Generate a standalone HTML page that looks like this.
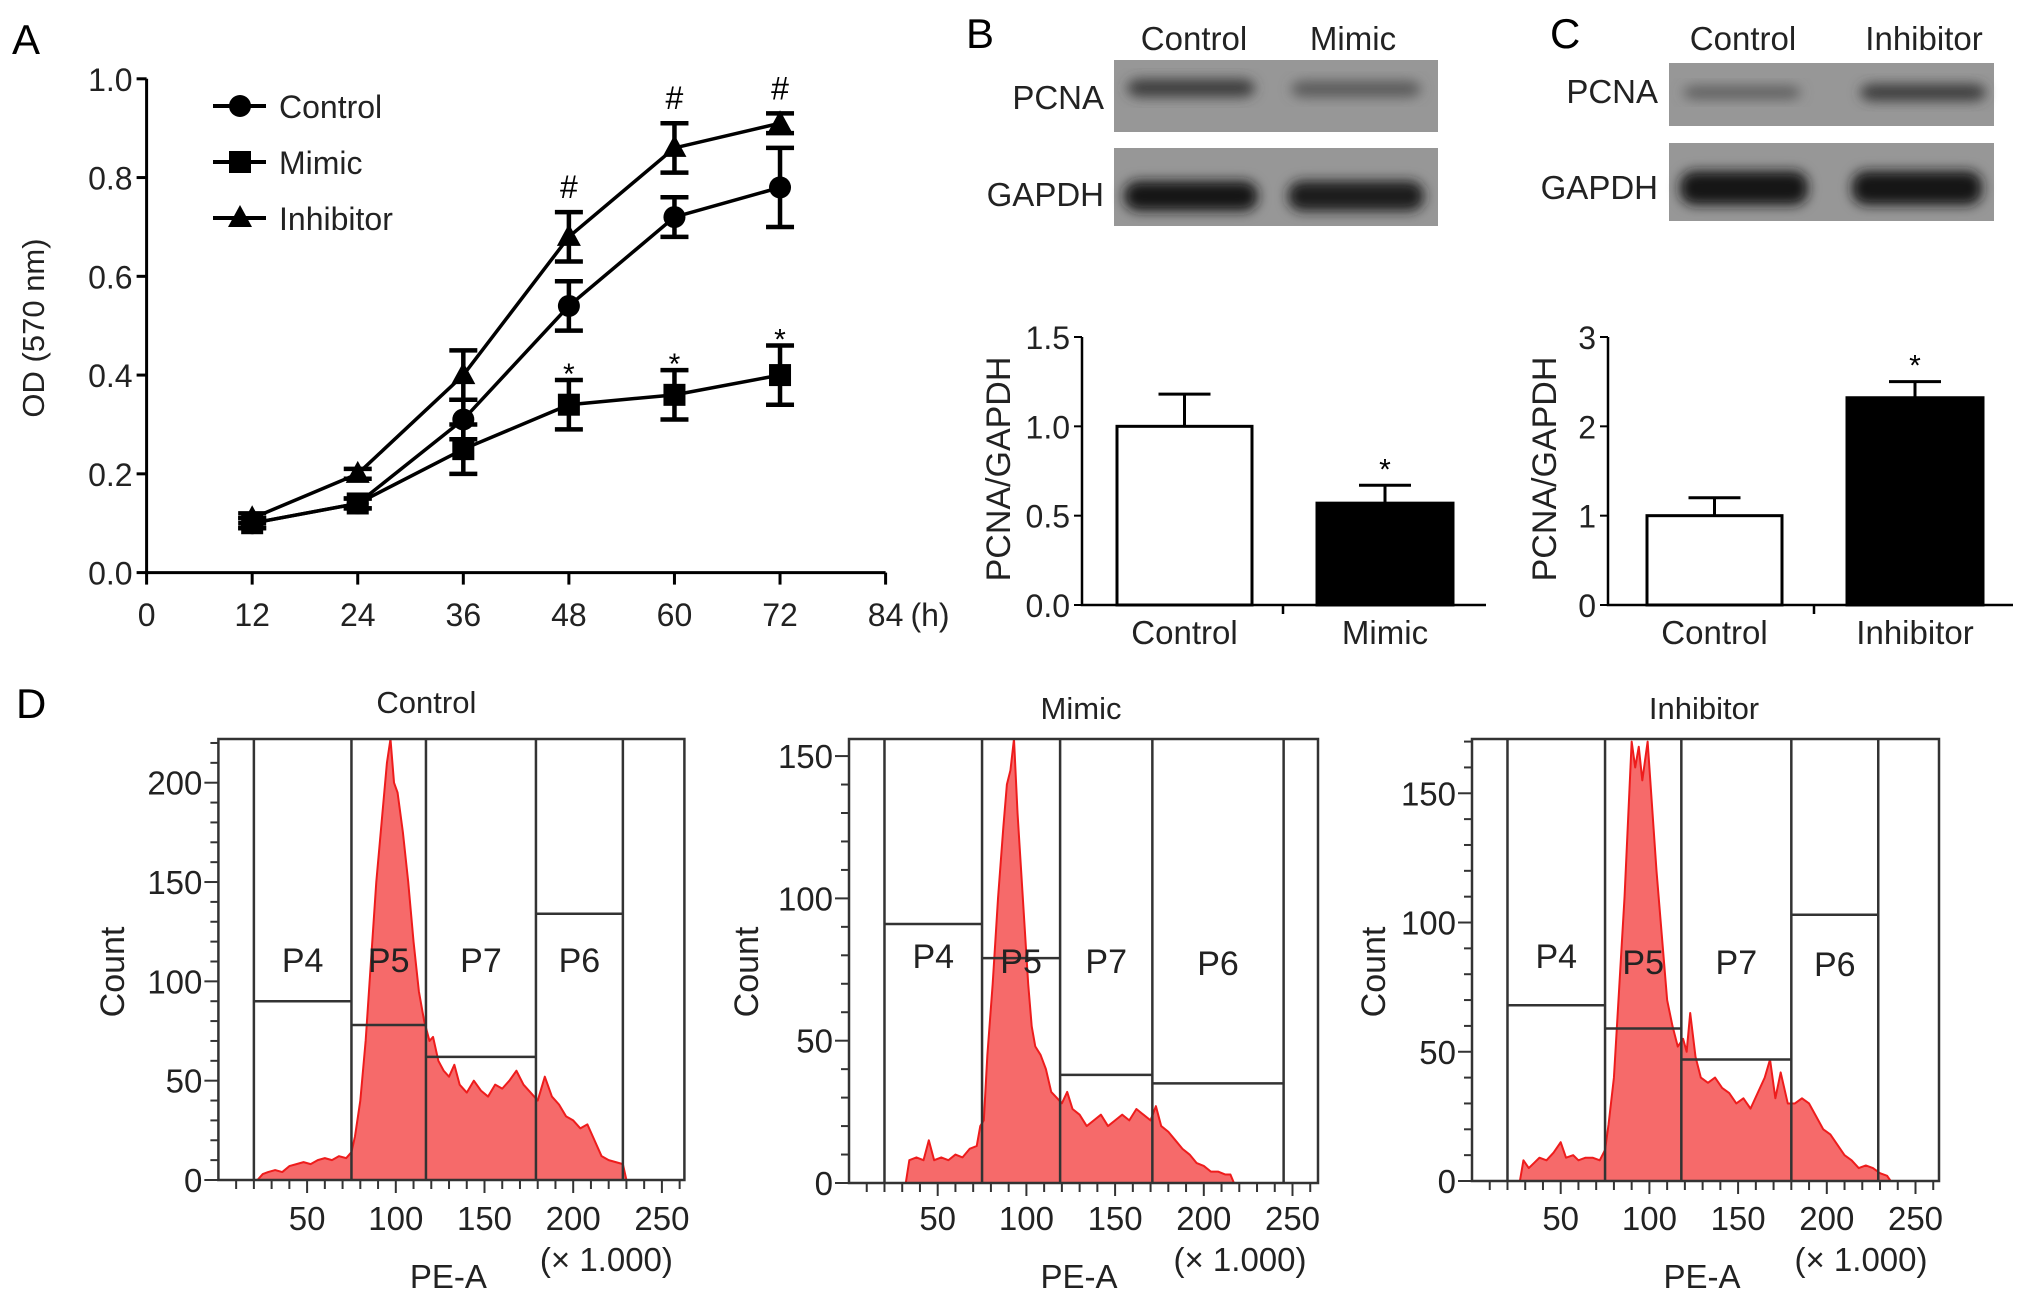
<!DOCTYPE html>
<html><head><meta charset="utf-8"><style>
html,body{margin:0;padding:0;background:#fff;}
svg{display:block;font-family:"Liberation Sans",Arial,sans-serif;}
</style></head><body>
<svg id="fig" width="2032" height="1297" viewBox="0 0 2032 1297" xmlns="http://www.w3.org/2000/svg">
<defs>
<filter id="blur6" x="-20%" y="-60%" width="140%" height="220%"><feGaussianBlur stdDeviation="6"/></filter>
</defs>
<g id="panelA"></g>
<g id="panelB"></g>
<g id="panelC"></g>
<g id="panelD"></g>
</svg>
<script>
// ---------- Panel A data ----------
const timePoints = [12, 24, 36, 48, 60, 72];
const controlOD = [0.10, 0.14, 0.31, 0.54, 0.72, 0.78];
const controlErr = [0.01, 0.01, 0.04, 0.05, 0.04, 0.08];
const mimicOD = [0.10, 0.14, 0.25, 0.34, 0.36, 0.40];
const mimicErr = [0.01, 0.01, 0.05, 0.05, 0.05, 0.06];
const inhibitorOD = [0.11, 0.20, 0.40, 0.68, 0.86, 0.91];
const inhibitorErr = [0.01, 0.01, 0.05, 0.05, 0.05, 0.02];
const hashMarks = [false, false, false, true, true, true];
const starMarks = [false, false, false, true, true, true];
const xTicksA = [0, 12, 24, 36, 48, 60, 72, 84];
const yTicksA = [0.0, 0.2, 0.4, 0.6, 0.8, 1.0];
// ---------- Panel B/C data ----------
const barCatsB = ["Control", "Mimic"];
const barValsB = [1.0, 0.57];
const barErrB = [0.18, 0.10];
const yTicksB = ["0.0", "0.5", "1.0", "1.5"];
const barCatsC = ["Control", "Inhibitor"];
const barValsC = [1.0, 2.32];
const barErrC = [0.20, 0.18];
const yTicksC = ["0", "1", "2", "3"];
// ---------- Panel D data ----------
const histCtrlX = [22,25,28,32,36,40,44,48,52,56,60,64,68,72,75,77,80,83,86,89,92,95,97,99,101,104,107,110,113,116,119,121,124,127,130,133,136,140,144,148,152,156,160,164,168,172,176,180,184,188,192,196,200,204,208,212,216,220,224,228,230];
const histCtrlY = [0,3,4,5,4,7,8,9,8,10,11,10,12,11,14,22,40,70,110,150,180,210,222,200,195,175,150,120,95,80,70,72,60,55,52,58,48,44,50,45,42,48,46,50,55,48,44,40,52,42,38,32,30,26,28,20,12,10,9,8,0];
const histMimX = [32,34,38,42,45,48,52,56,60,64,68,72,74,76,78,81,84,87,89,91,93,95,97,99,101,103,105,108,111,114,117,120,123,126,130,134,138,142,146,150,154,158,162,166,170,173,176,180,184,188,192,196,200,204,208,212,215,217];
const histMimY = [0,8,9,8,15,8,9,8,10,9,12,13,20,22,45,70,100,125,140,145,156,130,110,90,70,55,48,45,40,32,30,28,32,26,24,20,22,24,20,22,24,22,26,24,22,27,20,18,15,12,10,7,6,4,4,3,3,0];
const histInhX = [27,29,32,35,38,42,46,50,53,57,60,64,68,72,75,77,80,83,86,88,90,92,94,96,99,101,104,107,110,113,116,119,121,123,126,129,133,137,141,145,149,153,157,161,165,168,171,174,178,182,186,190,194,198,202,206,210,214,218,222,226,230,234,236];
const histInhY = [0,8,5,7,9,8,11,15,9,10,8,9,9,8,12,22,40,75,110,140,170,160,168,155,170,150,120,95,70,60,52,55,50,65,48,40,38,40,36,34,30,32,28,34,40,47,32,42,30,30,32,30,25,20,18,14,10,8,5,6,5,3,2,0];
const gatesCtrl = [20, 75, 117, 179, 228];
const gateLevelsCtrl = [90, 78, 62, 134];
const gatesMim = [20, 75, 119, 171, 245];
const gateLevelsMim = [91, 79, 38, 35];
const gatesInh = [20, 75, 118, 180, 229];
const gateLevelsInh = [68, 59, 47, 103];
const gateNames = ["P4", "P5", "P7", "P6"];
const xTicksD = [50, 100, 150, 200, 250];

const NS = "http://www.w3.org/2000/svg";
function mk(parent, tag, attrs, text) {
  const el = document.createElementNS(NS, tag);
  for (const k in attrs) el.setAttribute(k, attrs[k]);
  if (text !== undefined) el.textContent = text;
  parent.appendChild(el);
  return el;
}

// ================= Panel A =================
(function(){
  const g = document.getElementById('panelA');
  const X = h => 146.6 + h * (739 / 84);
  const Y = v => 572.6 - v * 493.8;
  let t = mk(g, 'text', {x: 12, y: 54, 'font-size': 42}, 'A');
  
  
  let ax = mk(g, 'path', {d: `M${X(0)},${Y(1)} L${X(0)},${Y(0)} L${X(84)},${Y(0)}`, fill: 'none', stroke: '#000', 'stroke-width': 3});
  
  
  yTicksA.forEach(v => {
    mk(g, 'line', {x1: X(0) - 10, x2: X(0), y1: Y(v), y2: Y(v), stroke: '#000', 'stroke-width': 3});
    const l = mk(g, 'text', {x: X(0) - 14, y: Y(v) + 12, 'font-size': 32, 'text-anchor': 'end', fill: '#222'}, v.toFixed(1));
    
    
  });
  xTicksA.forEach(h => {
    mk(g, 'line', {x1: X(h), x2: X(h), y1: Y(0), y2: Y(0) + 12, stroke: '#000', 'stroke-width': 3});
    const l = mk(g, 'text', {x: X(h), y: 626, 'font-size': 32, 'text-anchor': 'middle', fill: '#222'}, String(h));
    
    
  });
  t = mk(g, 'text', {x: 930, y: 626, 'font-size': 32, 'text-anchor': 'middle', fill: '#222'}, '(h)');
  
  
  t = mk(g, 'text', {x: 0, y: 0, 'font-size': 31, 'text-anchor': 'middle', fill: '#222', transform: 'translate(44,328) rotate(-90)'}, 'OD (570 nm)');
  
  

  function marker(gp, type, x, y) {
    let m;
    if (type === 'circle') m = mk(gp, 'circle', {cx: x, cy: y, r: 11, fill: '#000'});
    else if (type === 'square') m = mk(gp, 'rect', {x: x - 11, y: y - 11, width: 22, height: 22, fill: '#000'});
    else m = mk(gp, 'path', {d: `M${x},${y - 13} L${x + 12},${y + 9} L${x - 12},${y + 9} Z`, fill: '#000'});
    return m;
  }
  const series = [
    {name: 'control', vals: controlOD, err: controlErr, m: 'circle'},
    {name: 'mimic', vals: mimicOD, err: mimicErr, m: 'square'},
    {name: 'inhibitor', vals: inhibitorOD, err: inhibitorErr, m: 'triangle'}
  ];
  series.forEach(s => {
    const sg = mk(g, 'g', {});
    
    
    const pts = timePoints.map((h, i) => `${X(h)},${Y(s.vals[i])}`).join(' ');
    mk(sg, 'polyline', {points: pts, fill: 'none', stroke: '#000', 'stroke-width': 3.5});
    timePoints.forEach((h, i) => {
      const x = X(h), hi = Y(s.vals[i] + s.err[i]), lo = Y(s.vals[i] - s.err[i]);
      mk(sg, 'path', {d: `M${x},${hi} L${x},${lo} M${x - 14},${hi} L${x + 14},${hi} M${x - 14},${lo} L${x + 14},${lo}`, stroke: '#000', 'stroke-width': 4.5, fill: 'none'});
      const m = marker(sg, s.m, x, Y(s.vals[i]));
      
      
    });
  });
  timePoints.forEach((h, i) => {
    if (hashMarks[i]) {
      const l = mk(g, 'text', {x: X(h), y: Y(inhibitorOD[i] + inhibitorErr[i]) - 14, 'font-size': 32, 'text-anchor': 'middle'}, '#');
      
      
    }
    if (starMarks[i]) {
      const l = mk(g, 'text', {x: X(h), y: Y(mimicOD[i] + mimicErr[i]) + 4, 'font-size': 30, 'text-anchor': 'middle'}, '*');
      
      
    }
  });
  const legendNames = ['Control', 'Mimic', 'Inhibitor'];
  const legendMarks = ['circle', 'square', 'triangle'];
  legendNames.forEach((n, i) => {
    const lg = mk(g, 'g', {});
    
    
    const y = 106 + i * 56;
    mk(lg, 'line', {x1: 213, x2: 266, y1: y, y2: y, stroke: '#000', 'stroke-width': 4});
    marker(lg, legendMarks[i], 240, y);
    mk(lg, 'text', {x: 279, y: y + 12, 'font-size': 32, fill: '#222'}, n);
  });
})();

// ================= Blots + bars (B, C) =================
function blot(g, name, x, y, w, h, bands) {
  const bg = mk(g, 'g', {});
  
  
  mk(bg, 'rect', {x: x, y: y, width: w, height: h, fill: '#979797'});
  bands.forEach(b => {
    mk(bg, 'rect', {x: b[0], y: b[1], width: b[2], height: b[3], rx: 14, fill: b[4], filter: 'url(#blur6)'});
  });
}
function barChart(g, prefix, axX, axEnd, yMax, cats, vals, errs, ticks, bars, mid, titleX) {
  const Y = v => 605 - v / yMax * 268;
  ticks.forEach(tk => {
    const v = parseFloat(tk);
    mk(g, 'line', {x1: axX - 8, x2: axX, y1: Y(v), y2: Y(v), stroke: '#000', 'stroke-width': 2});
    const l = mk(g, 'text', {x: axX - 12, y: Y(v) + 12, 'font-size': 32, 'text-anchor': 'end', fill: '#222'}, tk);
    
    
  });
  cats.forEach((c, i) => {
    const bx = bars[i][0], bw = bars[i][1];
    const top = Y(vals[i]), et = Y(vals[i] + errs[i]);
    mk(g, 'path', {d: `M${bx + bw / 2},${top} L${bx + bw / 2},${et} M${bx + bw / 2 - 26},${et} L${bx + bw / 2 + 26},${et}`, stroke: '#000', 'stroke-width': 3});
    const r = mk(g, 'rect', {x: bx, y: top, width: bw, height: Y(0) - top, fill: i === 0 ? '#fff' : '#000', stroke: '#000', 'stroke-width': 3});
    
    
    const l = mk(g, 'text', {x: bx + bw / 2, y: 644, 'font-size': 33, 'text-anchor': 'middle', fill: '#222'}, c);
    
    
    if (i === 1) {
      const s = mk(g, 'text', {x: bx + bw / 2, y: et - 6, 'font-size': 30, 'text-anchor': 'middle'}, '*');
      
      
    }
  });
  const ax = mk(g, 'path', {d: `M${axX},${Y(yMax)} L${axX},${Y(0)} L${axEnd},${Y(0)} M${mid},${Y(0)} L${mid},${Y(0) + 9}`, fill: 'none', stroke: '#000', 'stroke-width': 2.5});
  
  
  const t = mk(g, 'text', {x: 0, y: 0, 'font-size': 34, 'text-anchor': 'middle', fill: '#222', transform: `translate(${titleX},469) rotate(-90)`}, 'PCNA/GAPDH');
  
  
}
(function(){
  const g = document.getElementById('panelB');
  let t = mk(g, 'text', {x: 966, y: 48, 'font-size': 42}, 'B');
  
  
  [['Control', 1194], ['Mimic', 1353]].forEach(a => {
    const l = mk(g, 'text', {x: a[1], y: 50, 'font-size': 33, 'text-anchor': 'middle', fill: '#222'}, a[0]);
    
    
  });
  blot(g, 'pcna-blot-b', 1114, 60, 324, 72, [[1127, 79, 128, 18, '#3e3e3e'], [1291, 81, 130, 16, '#5a5a5a']]);
  blot(g, 'gapdh-blot-b', 1114, 148, 324, 78, [[1124, 181, 134, 30, '#151515'], [1288, 181, 136, 30, '#1a1a1a']]);
  [['PCNA', 109], ['GAPDH', 206]].forEach(a => {
    const l = mk(g, 'text', {x: 1104, y: a[1], 'font-size': 33, 'text-anchor': 'end', fill: '#222'}, a[0]);
    
    
  });
  barChart(g, 'b', 1082, 1486, 1.5, barCatsB, barValsB, barErrB, yTicksB, [[1117, 135], [1317, 136]], 1283, 1010);
})();
(function(){
  const g = document.getElementById('panelC');
  let t = mk(g, 'text', {x: 1550, y: 48, 'font-size': 42}, 'C');
  
  
  [['Control', 1743], ['Inhibitor', 1924]].forEach(a => {
    const l = mk(g, 'text', {x: a[1], y: 50, 'font-size': 33, 'text-anchor': 'middle', fill: '#222'}, a[0]);
    
    
  });
  blot(g, 'pcna-blot-c', 1669, 63, 325, 63, [[1683, 86, 118, 13, '#5e5e5e'], [1860, 84, 126, 17, '#3e3e3e']]);
  blot(g, 'gapdh-blot-c', 1669, 143, 325, 78, [[1680, 171, 128, 34, '#121212'], [1852, 171, 130, 34, '#121212']]);
  [['PCNA', 103], ['GAPDH', 199]].forEach(a => {
    const l = mk(g, 'text', {x: 1658, y: a[1], 'font-size': 33, 'text-anchor': 'end', fill: '#222'}, a[0]);
    
    
  });
  barChart(g, 'c', 1608, 2013, 3, barCatsC, barValsC, barErrC, yTicksC, [[1647, 135], [1847, 136]], 1814, 1556);
})();

// ================= Panel D =================
(function(){
  const g = document.getElementById('panelD');
  let t = mk(g, 'text', {x: 16, y: 718, 'font-size': 42}, 'D');
  
  
  const panels = [
    {name: 'control', title: 'Control', bx: 218.4, bw: 466, by: 739, y0: 1180, ymax: 222, yStep: 50, xs: histCtrlX, ys: histCtrlY, gates: gatesCtrl, lv: gateLevelsCtrl, titleY: 713, countX: 124, labY: [972, 972, 972, 972]},
    {name: 'mimic', title: 'Mimic', bx: 849, bw: 469, by: 739, y0: 1183, ymax: 156, yStep: 50, xs: histMimX, ys: histMimY, gates: gatesMim, lv: gateLevelsMim, titleY: 719, countX: 758, labY: [968, 973, 973, 975]},
    {name: 'inhibitor', title: 'Inhibitor', bx: 1472, bw: 467, by: 739, y0: 1181, ymax: 171, yStep: 50, xs: histInhX, ys: histInhY, gates: gatesInh, lv: gateLevelsInh, titleY: 719, countX: 1385, labY: [968, 974, 974, 976]}
  ];
  panels.forEach(p => {
    const pg = mk(g, 'g', {});
    
    
    const X = v => p.bx + v * (88.7 / 50);
    const Y = c => p.y0 - c * ((p.y0 - p.by) / p.ymax);
    let d = `M${X(p.xs[0])},${Y(0)}`;
    p.xs.forEach((x, i) => { d += ` L${X(x)},${Y(p.ys[i])}`; });
    d += ` L${X(p.xs[p.xs.length - 1])},${Y(0)} Z`;
    const h = mk(pg, 'path', {d: d, fill: '#f66a6a', stroke: '#ee1c1c', 'stroke-width': 2, 'stroke-linejoin': 'round'});
    
    
    mk(pg, 'rect', {x: p.bx, y: p.by, width: p.bw, height: p.y0 - p.by, fill: 'none', stroke: '#333', 'stroke-width': 2.5});
    for (let i = 0; i < 4; i++) {
      const a = X(p.gates[i]), b = X(p.gates[i + 1]);
      const gl = mk(pg, 'path', {d: `M${a},${p.by} L${a},${p.y0} M${a},${Y(p.lv[i])} L${b},${Y(p.lv[i])}`, stroke: '#333', 'stroke-width': 2.5, fill: 'none'});
      
      
      const lb = mk(pg, 'text', {x: (a + b) / 2, y: p.labY[i], 'font-size': 34, 'text-anchor': 'middle', fill: '#222'}, gateNames[i]);
      
      
    }
    mk(pg, 'line', {x1: X(p.gates[4]), x2: X(p.gates[4]), y1: p.by, y2: p.y0, stroke: '#333', 'stroke-width': 2.5});
    for (let c = 0; c <= p.ymax; c += 10) {
      const major = c % p.yStep === 0;
      mk(pg, 'line', {x1: p.bx - (major ? 14 : 8), x2: p.bx, y1: Y(c), y2: Y(c), stroke: '#333', 'stroke-width': 2});
      if (major) {
        const l = mk(pg, 'text', {x: p.bx - 16, y: Y(c) + 12, 'font-size': 33, 'text-anchor': 'end', fill: '#222'}, String(c));
        
        
      }
    }
    mk(pg, 'line', {x1: p.bx - 14, x2: p.bx, y1: p.y0, y2: p.y0, stroke: '#333', 'stroke-width': 2});
    for (let v = 10; v <= 260; v += 10) {
      const major = v % 50 === 0;
      mk(pg, 'line', {x1: X(v), x2: X(v), y1: p.y0, y2: p.y0 + (major ? 13 : 9), stroke: '#333', 'stroke-width': 2});
    }
    xTicksD.forEach(v => {
      const l = mk(pg, 'text', {x: X(v), y: 1230, 'font-size': 33, 'text-anchor': 'middle', fill: '#222'}, String(v));
      
      
    });
    let tt = mk(pg, 'text', {x: p.bx + p.bw - 78, y: 1271, 'font-size': 33, 'text-anchor': 'middle', fill: '#222'}, '(× 1.000)');
    
    
    tt = mk(pg, 'text', {x: p.bx + 230, y: 1288, 'font-size': 33, 'text-anchor': 'middle', fill: '#222'}, 'PE-A');
    
    
    tt = mk(pg, 'text', {x: 0, y: 0, 'font-size': 34, 'text-anchor': 'middle', fill: '#222', transform: `translate(${p.countX},972) rotate(-90)`}, 'Count');
    
    
    tt = mk(pg, 'text', {x: p.bx + (p.title === 'Control' ? 208 : 232), y: p.titleY, 'font-size': 31, 'text-anchor': 'middle', fill: '#222'}, p.title);
    
    
  });
})();
</script>
</body></html>
